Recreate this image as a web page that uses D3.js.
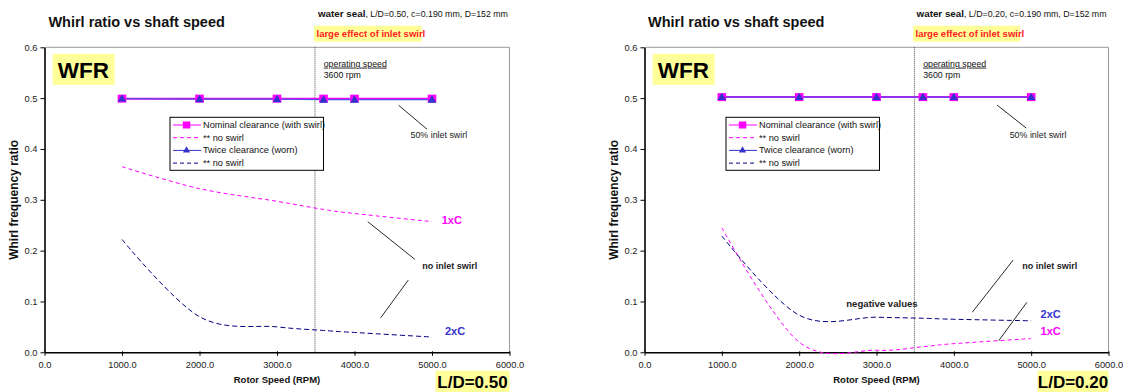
<!DOCTYPE html>
<html>
<head>
<meta charset="utf-8">
<script src="https://cdn.jsdelivr.net/npm/d3@7/dist/d3.min.js"></script>
<style>
  body { margin: 0; background: #fff; }
  svg { display: block; font-family: "Liberation Sans", Arial, sans-serif; }
</style>
</head>
<body>
<svg id="chart" width="1123" height="392"></svg>
<script>
// Rotor speeds at which the whirl frequency ratio was computed (rpm)
const speeds = [1000, 2000, 3000, 3600, 4000, 5000];

// L/D = 0.50 seal
const ld50NominalSwirl   = [0.499, 0.499, 0.499, 0.499, 0.499, 0.499];
const ld50NominalNoSwirl = [0.365, 0.322, 0.297, 0.281, 0.273, 0.257];
const ld50TwiceSwirl     = [0.499, 0.498, 0.498, 0.497, 0.497, 0.497];
const ld50TwiceNoSwirl   = [0.222, 0.070, 0.050, 0.043, 0.039, 0.030];

// L/D = 0.20 seal
const ld20NominalSwirl   = [0.502, 0.502, 0.502, 0.502, 0.502, 0.502];
const ld20NominalNoSwirl = [0.245, 0.020, 0.004, 0.011, 0.017, 0.027];
const ld20TwiceSwirl     = [0.502, 0.502, 0.502, 0.502, 0.502, 0.502];
const ld20TwiceNoSwirl   = [0.229, 0.073, 0.069, 0.067, 0.065, 0.062];

const xTicks = [0, 1000, 2000, 3000, 4000, 5000, 6000];
const yTicks = [0, 0.1, 0.2, 0.3, 0.4, 0.5, 0.6];
const operatingSpeed = 3490;

const legendLabels = ["Nominal clearance (with swirl)", "** no swirl", "Twice clearance (worn)", "** no swirl"];

const MAGENTA = "#ff00ff", BLUE = "#3333cc", NAVY = "#000080";

const panels = [
  {
    left: 44.5, right: 509.5,
    header: "L/D=0.50, c=0.190 mm, D=152 mm",
    ratio: "L/D=0.50",
    nomSwirl: ld50NominalSwirl, nomNo: ld50NominalNoSwirl,
    twSwirl: ld50TwiceSwirl, twNo: ld50TwiceNoSwirl,
    titleX: 48.4, headerX: 318, redX: 314, redW: 107.5, legendX: 170, badgeW: 74,
    notes: [
      { text: "1xC", x: 5125, y: 0.252, cls: "c1" },
      { text: "2xC", x: 5167, y: 0.035, cls: "c2" },
      { text: "no inlet swirl", x: 4875, y: 0.164, cls: "bold" }
    ],
    leaders: [[4171, 0.257, 4778, 0.183], [4694, 0.142, 4338, 0.068], [4569, 0.486, 4935, 0.439]]
  },
  {
    left: 644.5, right: 1108.5,
    header: "L/D=0.20, c=0.190 mm, D=152 mm",
    ratio: "L/D=0.20",
    nomSwirl: ld20NominalSwirl, nomNo: ld20NominalNoSwirl,
    twSwirl: ld20TwiceSwirl, twNo: ld20TwiceNoSwirl,
    titleX: 648, headerX: 916.6, redX: 913, redW: 107, legendX: 726, badgeW: 71,
    notes: [
      { text: "2xC", x: 5121, y: 0.067, cls: "c2" },
      { text: "1xC", x: 5121, y: 0.035, cls: "c1" },
      { text: "no inlet swirl", x: 4884, y: 0.164, cls: "bold" },
      { text: "negative values", x: 2609, y: 0.0897, cls: "neg" }
    ],
    leaders: [[4768, 0.1816, 4238, 0.0787], [4944, 0.0984, 4581, 0.0228], [4558, 0.4865, 4935, 0.4413]]
  }
];

const svg = d3.select("#chart");
const plotTop = 47.3, plotBottom = 352.3;

panels.forEach(p => {
  const x = d3.scaleLinear().domain([0, 6000]).range([p.left, p.right]);
  const y = d3.scaleLinear().domain([0, 0.6]).range([plotBottom, plotTop]);
  const g = svg.append("g");

  // plot frame (grey top and right edges)
  g.append("path")
    .attr("d", `M${p.left},${plotTop}H${p.right}V${plotBottom}`)
    .attr("fill", "none").attr("stroke", "#999").attr("stroke-width", 1);

  // axes
  const xAxis = g.append("g").attr("transform", `translate(0,${plotBottom})`)
    .call(d3.axisBottom(x).tickValues(xTicks).tickFormat(d3.format(".1f")).tickSizeInner(3).tickSizeOuter(0).tickPadding(6));
  const yAxis = g.append("g").attr("transform", `translate(${p.left},0)`)
    .call(d3.axisLeft(y).tickValues(yTicks).tickFormat(d3.format(".1f")).tickSizeInner(4).tickSizeOuter(0).tickPadding(3));
  [xAxis, yAxis].forEach(a => {
    a.select(".domain").attr("stroke", "#000").attr("stroke-width", 1.6);
    a.selectAll(".tick line").attr("stroke", "#000");
    a.selectAll("text").attr("font-size", 9.3).attr("fill", "#222")
      .attr("font-family", "Liberation Sans, Arial, sans-serif");
  });
  xAxis.selectAll(".tick line").attr("y1", -1).attr("y2", 3.5);

  // operating speed marker
  g.append("line")
    .attr("x1", x(operatingSpeed)).attr("x2", x(operatingSpeed))
    .attr("y1", plotTop).attr("y2", plotBottom)
    .attr("stroke", "#222").attr("stroke-width", 0.8).attr("stroke-dasharray", "1,1");

  const smooth = d3.line().curve(d3.curveCardinal.tension(0))
    .x((d, i) => x(speeds[i])).y(d => y(d));

  // no-swirl curves
  g.append("path").datum(p.nomNo).attr("d", smooth)
    .attr("fill", "none").attr("stroke", MAGENTA).attr("stroke-width", 1).attr("stroke-dasharray", "4,3");
  g.append("path").datum(p.twNo).attr("d", smooth)
    .attr("fill", "none").attr("stroke", NAVY).attr("stroke-width", 1).attr("stroke-dasharray", "5,3");

  // with-swirl series
  const straight = d3.line().x((d, i) => x(speeds[i])).y(d => y(d));
  g.append("path").datum(p.nomSwirl).attr("d", straight)
    .attr("fill", "none").attr("stroke", MAGENTA).attr("stroke-width", 2);
  g.append("path").datum(p.twSwirl).attr("d", straight)
    .attr("fill", "none").attr("stroke", "#5050e0").attr("stroke-width", 1.4);
  g.selectAll(".sq").data(p.nomSwirl).join("rect")
    .attr("x", (d, i) => x(speeds[i]) - 4.3).attr("y", d => y(d) - 4)
    .attr("width", 8.6).attr("height", 8).attr("fill", MAGENTA);
  const tri = d3.symbol().type(d3.symbolTriangle).size(32);
  g.selectAll(".tri").data(p.twSwirl).join("path")
    .attr("d", tri)
    .attr("transform", (d, i) => `translate(${x(speeds[i])},${y(d) + 0.5})`)
    .attr("fill", BLUE);

  // titles and header notes
  g.append("text").attr("x", p.titleX).attr("y", 27)
    .attr("font-size", 14.5).attr("font-weight", "bold").attr("fill", "#111")
    .text("Whirl ratio vs shaft speed");
  const hdr = g.append("text").attr("x", p.headerX).attr("y", 17).attr("fill", "#111");
  hdr.append("tspan").attr("font-size", 9.8).attr("font-weight", "bold").text("water seal");
  hdr.append("tspan").attr("font-size", 8.8).text(", " + p.header);

  g.append("rect").attr("x", p.redX).attr("y", 25.7).attr("width", p.redW).attr("height", 16).attr("fill", "#ffff99");
  g.append("text").attr("x", p.redX + 2.5).attr("y", 36.5)
    .attr("font-size", 9.5).attr("font-weight", "bold").attr("fill", "#ff2020")
    .text("large effect of inlet swirl");

  // WFR badge
  g.append("rect").attr("x", x(106)).attr("y", y(0.587)).attr("width", 62).attr("height", 31).attr("fill", "#ffff99");
  g.append("text").attr("x", x(106) + 5).attr("y", y(0.587) + 24)
    .attr("font-size", 22.5).attr("font-weight", "bold").attr("fill", "#000").text("WFR");

  // operating speed label
  g.append("text").attr("x", x(3603)).attr("y", y(0.562))
    .attr("font-size", 8.8).attr("fill", "#111").attr("text-decoration", "underline").text("operating speed");
  g.append("text").attr("x", x(3603)).attr("y", y(0.540))
    .attr("font-size", 8.8).attr("fill", "#111").text("3600 rpm");

  // leader lines and annotations
  p.leaders.forEach(l => {
    g.append("line").attr("x1", x(l[0])).attr("y1", y(l[1])).attr("x2", x(l[2])).attr("y2", y(l[3]))
      .attr("stroke", "#111").attr("stroke-width", 0.9);
  });
  g.append("text").attr("x", x(4722)).attr("y", y(0.4216))
    .attr("font-size", 8.9).attr("fill", "#222").text("50% inlet swirl");
  p.notes.forEach(n => {
    const t = g.append("text").attr("x", x(n.x)).attr("y", y(n.y)).text(n.text);
    if (n.cls === "c1") t.attr("font-size", 11).attr("font-weight", "bold").attr("fill", MAGENTA);
    else if (n.cls === "c2") t.attr("font-size", 11).attr("font-weight", "bold").attr("fill", BLUE);
    else if (n.cls === "neg") t.attr("font-size", 9.6).attr("font-weight", "bold").attr("fill", "#222");
    else t.attr("font-size", 9).attr("font-weight", "bold").attr("fill", "#222");
  });

  // legend
  const lg = g.append("g").attr("transform", `translate(${p.legendX},117.3)`);
  lg.append("rect").attr("width", 153.5).attr("height", 53)
    .attr("fill", "#fff").attr("stroke", "#000").attr("stroke-width", 1);
  const styles = [
    { c: MAGENTA, dash: null, mark: "sq" },
    { c: MAGENTA, dash: "4,3", mark: null },
    { c: BLUE, dash: null, mark: "tri" },
    { c: NAVY, dash: "4,3", mark: null }
  ];
  legendLabels.forEach((lab, i) => {
    const cy = 7.7 + i * 12.7;
    const s = styles[i];
    lg.append("line").attr("x1", 3).attr("x2", 31).attr("y1", cy).attr("y2", cy)
      .attr("stroke", s.c).attr("stroke-width", 1).attr("stroke-dasharray", s.dash);
    if (s.mark === "sq") lg.append("rect").attr("x", 12.8).attr("y", cy - 3.5).attr("width", 7.5).attr("height", 7).attr("fill", MAGENTA);
    if (s.mark === "tri") lg.append("path").attr("d", d3.symbol().type(d3.symbolTriangle).size(22))
      .attr("transform", `translate(16.5,${cy})`).attr("fill", BLUE);
    lg.append("text").attr("x", 33).attr("y", cy + 3).attr("font-size", 9.2).attr("fill", "#111").text(lab);
  });

  // axis titles
  g.append("text").attr("x", (p.left + p.right) / 2).attr("y", 383)
    .attr("text-anchor", "middle").attr("font-size", 9.5).attr("font-weight", "bold").attr("fill", "#111")
    .text("Rotor Speed (RPM)");
  g.append("text")
    .attr("transform", `translate(${p.left - 26.5},${(plotTop + plotBottom) / 2}) rotate(-90)`)
    .attr("text-anchor", "middle").attr("font-size", 12).attr("font-weight", "bold").attr("fill", "#111")
    .text("Whirl frequency ratio");

  // L/D badge
  g.append("rect").attr("x", p.right - p.badgeW).attr("y", 370.7).attr("width", p.badgeW).attr("height", 21.3).attr("fill", "#ffff99");
  g.append("text").attr("x", p.right - p.badgeW / 2).attr("y", 388)
    .attr("text-anchor", "middle").attr("font-size", 17).attr("font-weight", "bold").attr("fill", "#000")
    .text(p.ratio);
});
</script>
</body>
</html>
